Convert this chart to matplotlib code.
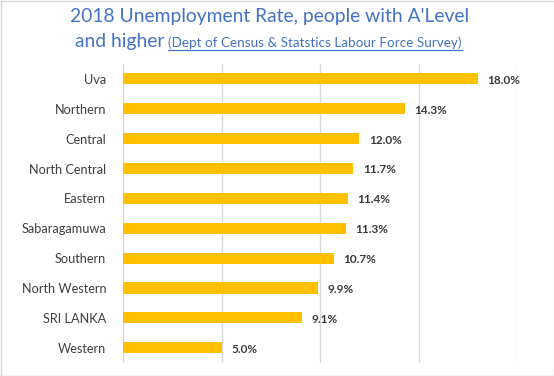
import matplotlib
matplotlib.use("Agg")
import matplotlib.pyplot as plt
from matplotlib.lines import Line2D
from matplotlib.patches import Rectangle

categories = ["Uva", "Northern", "Central", "North Central", "Eastern",
              "Sabaragamuwa", "Southern", "North Western", "SRI LANKA", "Western"]
values = [18.0, 14.3, 12.0, 11.7, 11.4, 11.3, 10.7, 9.9, 9.1, 5.0]
xticks = [0, 5, 10, 15, 20]

W, H = 554, 376
fig = plt.figure(figsize=(W / 100, H / 100), dpi=100)
plt.rcParams['font.family'] = ['Lato', 'DejaVu Sans']

def fx(px):
    return px / W

def fy(py):
    return 1 - py / H

ax = fig.add_axes([fx(123), fy(362.7), fx(517) - fx(123), fy(64) - fy(362.7)])
pos = list(range(len(categories)))
ax.barh(pos, values, height=0.37, color="#FFC000", zorder=3)
ax.set_ylim(len(categories) - 0.5, -0.5)
ax.set_xlim(0, 20)
ax.set_xticks(xticks)
ax.set_xticklabels([])
ax.tick_params(axis="x", length=0)
ax.tick_params(axis="y", length=0, pad=12)
ax.set_yticks(pos)
ax.set_yticklabels(categories, fontsize=9.2, color="#404040")
ax.grid(axis="x", color="#D9D9D9", linewidth=1, zorder=0)
for s in ax.spines.values():
    s.set_visible(False)

for p, v in zip(pos, values):
    ax.annotate(f"{v:.1f}%", xy=(v, p), xytext=(7, -1), textcoords="offset points",
                va="center", ha="left", fontsize=8.5, fontweight="bold", color="#3A3A3A")

# Border
fig.patches.append(Rectangle((fx(0.5), fy(375.5)), fx(553), fy(0.5) - fy(375.5),
                             transform=fig.transFigure, fill=False,
                             edgecolor="#D9D9D9", linewidth=1))

blue = "#4472C4"
fig.text(fx(269), fy(22), "2018 Unemployment Rate, people with A'Level",
         ha="center", va="baseline", fontsize=13.9, color=blue)
fig.text(fx(75), fy(47), "and higher", ha="left", va="baseline", fontsize=13.9, color=blue)
sub = fig.text(fx(168), fy(47), "(Dept of Census & Statstics Labour Force Survey)",
               ha="left", va="baseline", fontsize=9.7, color=blue)

fig.canvas.draw()
bb = sub.get_window_extent()
fig.add_artist(Line2D([bb.x0 / W, bb.x1 / W], [fy(50), fy(50)],
                      transform=fig.transFigure, color=blue, linewidth=0.9))

fig.savefig("out.png", dpi=100)
